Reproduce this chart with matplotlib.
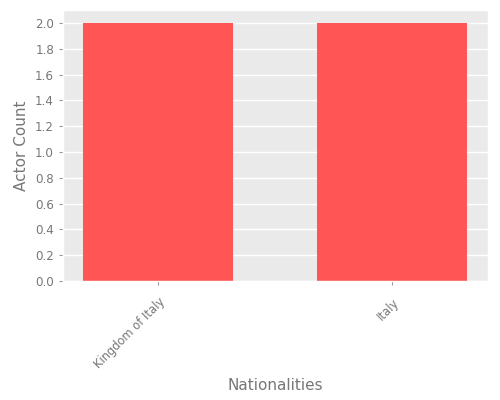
import matplotlib
matplotlib.use('Agg')
import matplotlib.pyplot as plt
from matplotlib.ticker import FormatStrFormatter

nationalities = ['Kingdom of Italy', 'Italy']
actor_counts = [2, 2]

plt.style.use('ggplot')
fig = plt.figure(figsize=(5, 4), dpi=100)
ax = fig.add_axes([0.126, 0.2975, 0.85, 0.6775])
ax.set_facecolor('#EAEAEA')
ax.bar(range(len(nationalities)), actor_counts, width=0.64, color='#FF5555', zorder=2)
ax.set_xticks(range(len(nationalities)))
ax.set_xticklabels(nationalities, rotation=45, ha='right', va='top',
                   rotation_mode='anchor', fontsize=8.3)
ax.set_xlim(-0.406, 1.41)
ax.set_ylim(0, 2.1)
ax.set_yticks([i * 0.2 for i in range(11)])
ax.yaxis.set_major_formatter(FormatStrFormatter('%.1f'))
ax.tick_params(axis='y', labelsize=8.6)
ax.tick_params(axis='x', pad=7.5)
ax.grid(axis='x', visible=False)
ax.grid(axis='y', color='white', linewidth=1)
ax.tick_params(colors='#999999', labelcolor='#777777', length=3)
ax.set_xlabel('Nationalities', fontsize=11, color='#777777', labelpad=5)
ax.set_ylabel('Actor Count', fontsize=11, color='#777777')
fig.savefig('out.png', dpi=100)
